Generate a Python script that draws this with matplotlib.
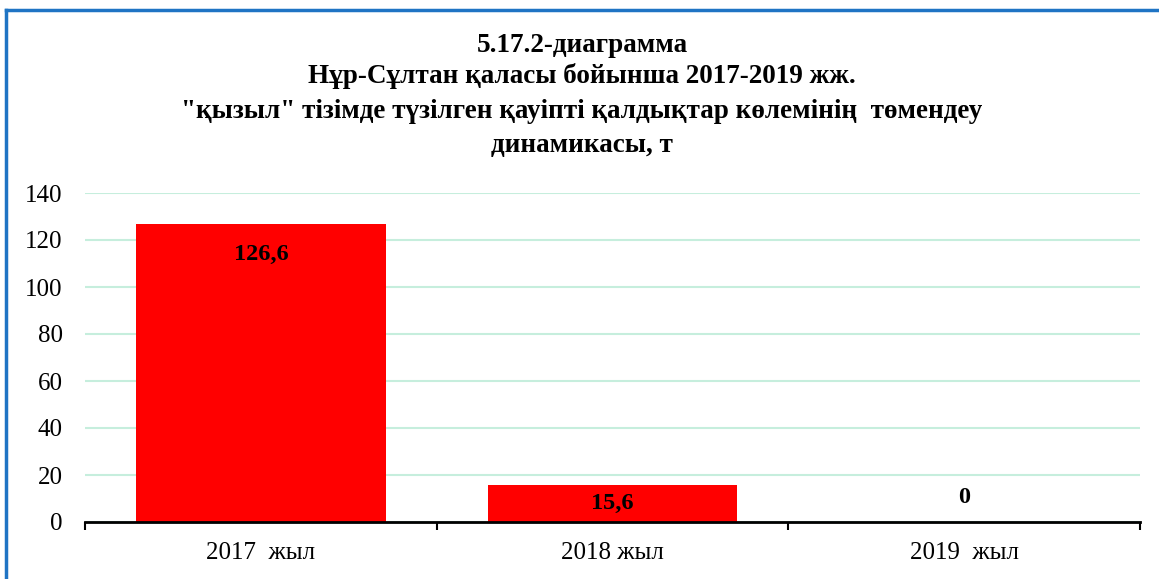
import matplotlib.pyplot as plt
from matplotlib.lines import Line2D

# data
years = ['2017  жыл', '2018 жыл', '2019  жыл']
values = [126.6, 15.6, 0]
value_labels = ['126,6', '15,6', '0']
yticks = [0, 20, 40, 60, 80, 100, 120, 140]

plt.rcParams['font.family'] = ['Liberation Serif', 'DejaVu Serif']

fig = plt.figure(figsize=(11.59, 5.79), dpi=100)
ax = fig.add_axes([85 / 1159, 1 - 522 / 579, (1140 - 85) / 1159, (522 - 193) / 579])

x = list(range(len(years)))
ax.bar(x, values, width=0.71, color='#FF0000', zorder=3)
ax.set_xlim(-0.5, 2.5)
ax.set_ylim(0, 140)
ax.set_yticks(yticks)
ax.set_yticklabels([str(t) for t in yticks], fontsize=18)
ax.tick_params(axis='y', length=0, pad=16)
ax.set_xticks([-0.5, 0.5, 1.5, 2.5])
ax.set_xticklabels([])
ax.tick_params(axis='x', length=6, width=1.5, direction='out')
for i, lab in enumerate(years):
    ax.text(i, -13, lab, ha='center', va='center', fontsize=18)

ax.grid(axis='y', color='#C6EEDD', linewidth=1.5, zorder=0)
for s in ['top', 'right', 'left']:
    ax.spines[s].set_visible(False)
ax.spines['bottom'].set_linewidth(2)
ax.spines['bottom'].set_zorder(4)

# value labels
ax.text(0, 114, value_labels[0], ha='center', va='center', fontsize=17.5, fontweight='bold')
ax.text(1, values[1] / 2, value_labels[1], ha='center', va='center', fontsize=17.5, fontweight='bold')
ax.text(2, 10.5, value_labels[2], ha='center', va='center', fontsize=17.5, fontweight='bold')

# title
title = ['5.17.2-диаграмма',
         'Нұр-Сұлтан қаласы бойынша 2017-2019 жж.',
         '"қызыл" тізімде түзілген қауіпті қалдықтар көлемінің  төмендеу',
         'динамикасы, т']
for yy, line in zip([46, 76, 111, 145], title):
    fig.text(582 / 1159, 1 - yy / 579, line, ha='center', va='center', fontsize=19.5, fontweight='bold')

# frame
fig.add_artist(Line2D([5.5 / 1159, 5.5 / 1159], [0, 1 - 10 / 579], color='#1F74C4', linewidth=2.5))
fig.add_artist(Line2D([5.5 / 1159, 1], [1 - 10 / 579, 1 - 10 / 579], color='#1F74C4', linewidth=2.5))

fig.savefig('out.png', dpi=100)
